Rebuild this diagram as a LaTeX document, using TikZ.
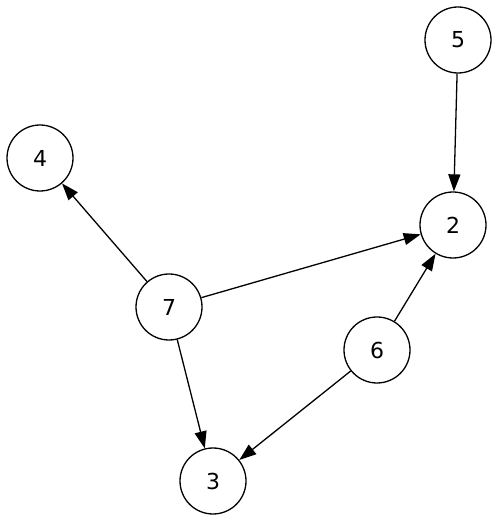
\documentclass[tikz,border=0pt]{standalone}
\usepackage{fontspec}
\setmainfont{DejaVu Sans}
\usetikzlibrary{arrows.meta}
\begin{document}
\begin{tikzpicture}[x=1pt,y=1pt,
  vert/.style={circle,draw,line width=1.3pt,minimum size=66pt,inner sep=0pt,font=\fontsize{22}{22}\selectfont},
  edge/.style={line width=1.3pt,-{Triangle[length=17pt,width=12pt]}}]
\useasboundingbox (0,0) rectangle (500,522);
\node[vert] (n5) at (458,482) {5};
\node[vert] (n4) at (40,364) {4};
\node[vert] (n2) at (453,297) {2};
\node[vert] (n7) at (169,215) {7};
\node[vert] (n6) at (377,172) {6};
\node[vert] (n3) at (213,41) {3};
\draw[edge] (n5) -- (n2);
\draw[edge] (n7) -- (n4);
\draw[edge] (n7) -- (n2);
\draw[edge] (n7) -- (n3);
\draw[edge] (n6) -- (n2);
\draw[edge] (n6) -- (n3);
\end{tikzpicture}
\end{document}
